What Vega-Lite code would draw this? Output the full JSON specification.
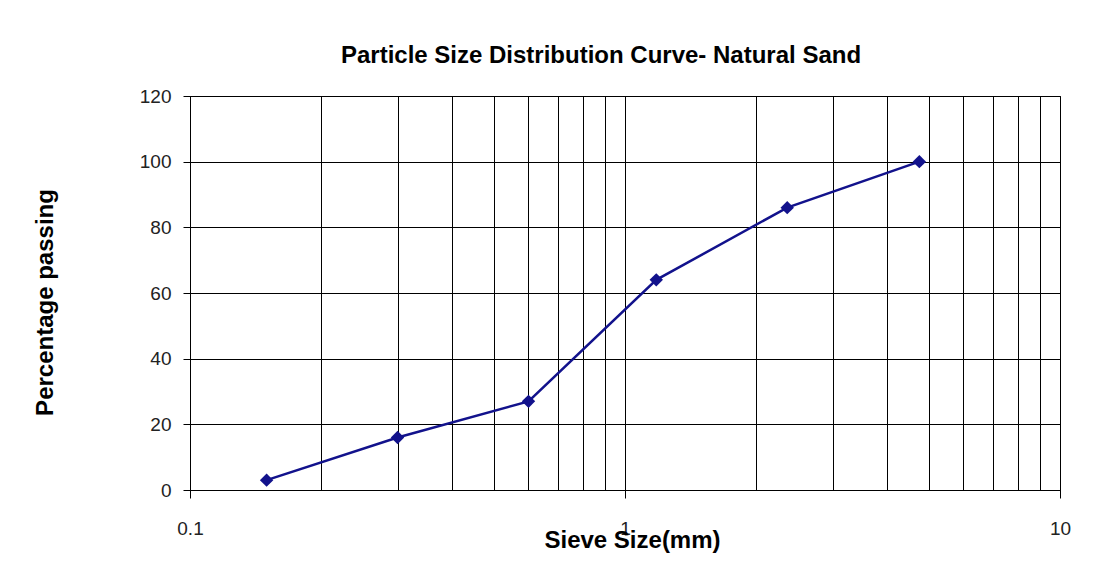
{
  "$schema": "https://vega.github.io/schema/vega-lite/v6.json",
  "autosize": {"type": "none"},
  "padding": {"left": 190, "top": 96, "right": 50, "bottom": 86},
  "width": 870,
  "height": 394,
  "background": "white",
  "title": {
    "text": "Particle Size Distribution Curve- Natural Sand",
    "font": "Liberation Sans",
    "fontSize": 24,
    "fontWeight": "bold",
    "color": "black",
    "anchor": "middle",
    "dx": -24,
    "offset": 19
  },
  "data": {
    "values": [
      {"size": 0.15, "passing": 3},
      {"size": 0.3, "passing": 16},
      {"size": 0.6, "passing": 27},
      {"size": 1.18, "passing": 64},
      {"size": 2.36, "passing": 86},
      {"size": 4.75, "passing": 100}
    ]
  },
  "config": {
    "view": {"stroke": "black", "strokeWidth": 1},
    "axis": {
      "labelFont": "Liberation Sans",
      "labelColor": "#222",
      "labelFontSize": 19,
      "titleFont": "Liberation Sans",
      "titleFontSize": 24,
      "titleFontWeight": "bold",
      "titleColor": "black",
      "domainColor": "black",
      "tickColor": "black",
      "gridColor": "black",
      "gridOpacity": 1,
      "gridWidth": 1
    }
  },
  "mark": {"type": "line", "color": "#12128c", "strokeWidth": 2.5, "point": {"shape": "diamond", "size": 180, "filled": true, "color": "#12128c", "opacity": 1}},
  "encoding": {
    "x": {
      "field": "size",
      "type": "quantitative",
      "scale": {"type": "log", "domain": [0.1, 10], "nice": false},
      "axis": {
        "title": "Sieve Size(mm)",
        "values": [0.1, 0.2, 0.3, 0.4, 0.5, 0.6, 0.7, 0.8, 0.9, 1, 2, 3, 4, 5, 6, 7, 8, 9, 10],
        "labelExpr": "datum.value == 0.1 ? '0.1' : (datum.value == 1 ? '1' : (datum.value == 10 ? '10' : ''))",
        "labelOverlap": false,
        "labelFlush": false,
        "tickSize": 8,
        "tickOpacity": {"condition": {"test": "datum.value == 0.1 || datum.value == 1 || datum.value == 10", "value": 1}, "value": 0},
        "labelPadding": 21,
        "grid": true,
        "titleY": 57,
        "titleBaseline": "alphabetic",
        "titleX": 442
      }
    },
    "y": {
      "field": "passing",
      "type": "quantitative",
      "scale": {"domain": [0, 120], "nice": false},
      "axis": {
        "title": "Percentage passing",
        "values": [0, 20, 40, 60, 80, 100, 120],
        "tickSize": 7,
        "labelPadding": 12,
        "titlePadding": 82,
        "titleY": 206,
        "grid": true
      }
    }
  }
}
